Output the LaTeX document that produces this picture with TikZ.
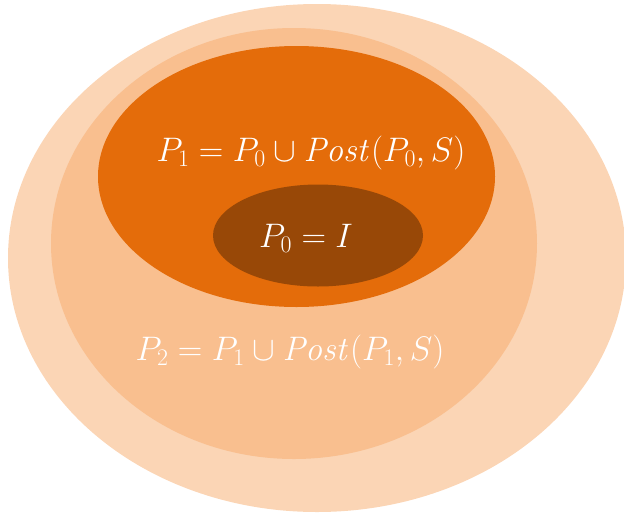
\RequirePackage{fix-cm}
\documentclass[tikz,border=0pt]{standalone}
\definecolor{outerc}{HTML}{FBD5B5}
\definecolor{secondc}{HTML}{F9BF8F}
\definecolor{orangec}{HTML}{E46C0A}
\definecolor{darkc}{HTML}{984807}
\tikzset{lbl/.style={text=white,font=\fontsize{34}{40}\selectfont,inner sep=0pt}}
\begin{document}
\begin{tikzpicture}[x=1pt,y=-1pt]
\useasboundingbox (0,0) rectangle (624,515);
\clip (0,0) rectangle (624,515);
\fill[outerc] (317,258) ellipse [x radius=309, y radius=254];
\fill[secondc] (294,243.5) ellipse [x radius=243, y radius=215.5];
\fill[orangec] (296.5,176.5) ellipse [x radius=198.5, y radius=130.5];
\fill[darkc] (318,235.5) ellipse [x radius=105, y radius=51];
\node[lbl] (p1) at (311,153) {$P_1 = P_0 \cup \mathit{Post}(P_0,S)$};
\node[lbl] (p0) at (306,238) {$P_0 = I$};
\node[lbl] (p2) at (290,352) {$P_2 = P_1 \cup \mathit{Post}(P_1,S)$};
\end{tikzpicture}
\end{document}
